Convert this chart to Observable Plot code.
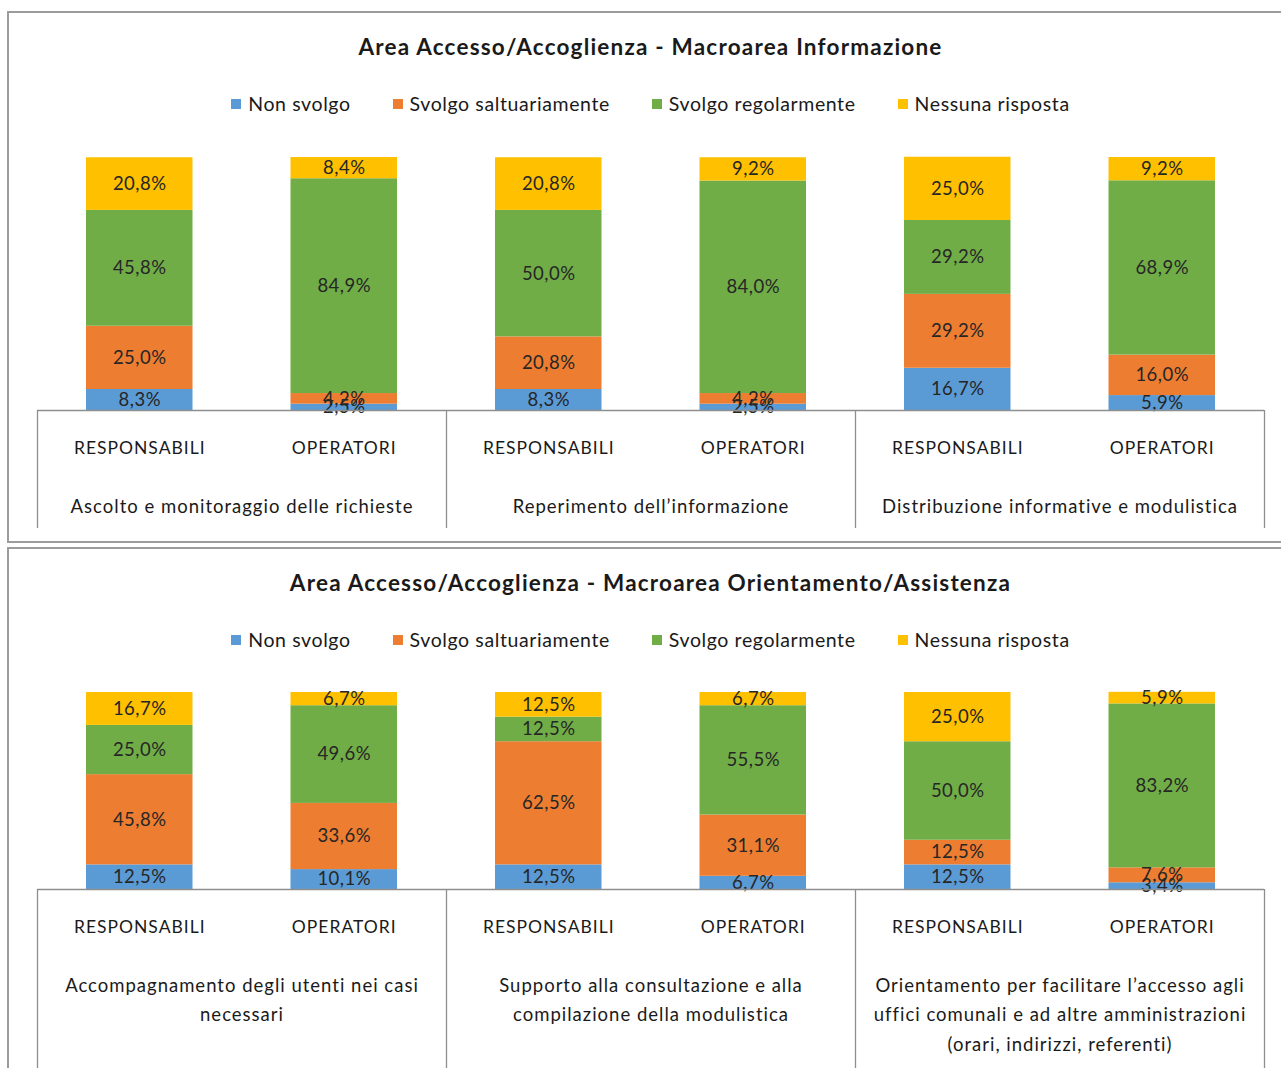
<!DOCTYPE html>
<html>
<head>
<meta charset="utf-8">
<script src="https://cdn.jsdelivr.net/npm/d3@7"></script>
<script src="https://cdn.jsdelivr.net/npm/@observablehq/plot@0.6"></script>
<style>
  body { margin: 0; background: #fff; width: 1281px; height: 1068px; overflow: hidden; position: relative; font-family: Lato, "Open Sans", sans-serif; color: #1a1a1a; }
  .panel { position: absolute; left: 7px; width: 1300px; border: 2px solid #9c9c9c; box-sizing: border-box; }
  .title { position: absolute; left: 0; width: 1301px; text-align: center; font-weight: bold; font-size: 22.5px; line-height: 24px; letter-spacing: 1.2px; }
  .legend { position: absolute; left: 0; width: 1301px; display: flex; justify-content: center; font-size: 19.5px; line-height: 22px; letter-spacing: 0.6px; }
  .legend .item { display: flex; align-items: center; margin: 0 21px; }
  .legend .sw { width: 10px; height: 10px; margin-right: 7px; }
  .chart { position: absolute; left: 0; }
</style>
</head>
<body>
<div id="root"></div>
<script>
// Response categories, bottom to top in every stacked column
const series = ["Non svolgo", "Svolgo saltuariamente", "Svolgo regolarmente", "Nessuna risposta"];
const colors = ["#5B9BD5", "#ED7D31", "#70AD47", "#FFC000"];
const roles = ["RESPONSABILI", "OPERATORI"];

// Macroarea Informazione (share of respondents, %)
const infoTitle = "Area Accesso/Accoglienza - Macroarea Informazione";
const infoGroups = [
  "Ascolto e monitoraggio delle richieste",
  "Reperimento dell’informazione",
  "Distribuzione informative e modulistica"
];
const infoNonSvolgo      = [8.3, 2.5, 8.3, 2.5, 16.7, 5.9];
const infoSaltuariamente = [25.0, 4.2, 20.8, 4.2, 29.2, 16.0];
const infoRegolarmente   = [45.8, 84.9, 50.0, 84.0, 29.2, 68.9];
const infoNessuna        = [20.8, 8.4, 20.8, 9.2, 25.0, 9.2];

// Macroarea Orientamento/Assistenza (share of respondents, %)
const orientTitle = "Area Accesso/Accoglienza - Macroarea Orientamento/Assistenza";
const orientGroups = [
  "Accompagnamento degli utenti nei casi\nnecessari",
  "Supporto alla consultazione e alla\ncompilazione della modulistica",
  "Orientamento per facilitare l’accesso agli\nuffici comunali e ad altre amministrazioni\n(orari, indirizzi, referenti)"
];
const orientNonSvolgo      = [12.5, 10.1, 12.5, 6.7, 12.5, 3.4];
const orientSaltuariamente = [45.8, 33.6, 62.5, 31.1, 12.5, 7.6];
const orientRegolarmente   = [25.0, 49.6, 12.5, 55.5, 50.0, 83.2];
const orientNessuna        = [16.7, 6.7, 12.5, 6.7, 25.0, 5.9];

const fmt = v => v.toFixed(1).replace(".", ",") + "%";

// letter spacing for the three text layers: value labels, role labels, group labels
const textSpacing = ["0.5px", "1px", "1px"];

function buildPanel(cfg) {
  const root = document.getElementById("root");

  const frame = document.createElement("div");
  frame.className = "panel";
  frame.style.top = cfg.frameTop + "px";
  frame.style.height = cfg.frameHeight + "px";
  root.appendChild(frame);

  const title = document.createElement("div");
  title.className = "title";
  title.style.top = (cfg.titleY - 12) + "px";
  title.textContent = cfg.title;
  root.appendChild(title);

  const legend = document.createElement("div");
  legend.className = "legend";
  legend.style.top = (cfg.legendY - 11) + "px";
  series.forEach((s, k) => {
    const item = document.createElement("div");
    item.className = "item";
    const sw = document.createElement("span");
    sw.className = "sw";
    sw.style.background = colors[k];
    const label = document.createElement("span");
    label.textContent = s;
    item.appendChild(sw);
    item.appendChild(label);
    legend.appendChild(item);
  });
  root.appendChild(legend);

  // one row per column segment
  const bars = d3.range(6).map(i => ({i, role: roles[i % 2]}));
  const rows = bars.flatMap(b => cfg.values.map((vals, k) => ({i: b.i, role: b.role, series: series[k], value: vals[b.i]})));
  const groups = cfg.groups.map((name, k) => ({k, name}));

  const svg = Plot.plot({
    width: 1281,
    height: cfg.height,
    marginLeft: 37,
    marginRight: 17,
    marginTop: 17,
    marginBottom: cfg.marginBottom,
    x: {domain: [0, 6], label: null},
    y: {domain: [0, 100], axis: null},
    color: {domain: series, range: colors},
    style: {fontFamily: "Lato, 'Open Sans', sans-serif", fontSize: "17px", color: "#1a1a1a", background: "transparent", overflow: "visible"},
    marks: [
      Plot.rectY(rows, Plot.stackY({x1: "i", x2: d => d.i + 1, y: "value", fill: "series", order: series, insetLeft: 49, insetRight: 49})),
      Plot.text(rows, Plot.stackY({x: d => d.i + 0.5, y: "value", z: "series", order: series, text: d => fmt(d.value), fill: "#262626", fontSize: 18.5})),
      Plot.ruleY([0], {stroke: "#8e8e8e", strokeWidth: 1.3}),
      Plot.axisX({ticks: [0, 2, 4, 6], tickSize: cfg.tickSize, tickFormat: () => "", label: null, stroke: "#8e8e8e", strokeWidth: 1.3}),
      Plot.text(bars, {x: d => d.i + 0.5, text: "role", frameAnchor: "bottom", dy: 43, fontSize: 17.5}),
      Plot.text(groups, {x: d => 2 * d.k + 1, text: "name", frameAnchor: "bottom", lineAnchor: "top", dy: 82, lineHeight: 1.58, fontSize: 18.5})
    ]
  });
  d3.select(svg).selectAll('g[aria-label="text"]').each(function(_, k) {
    this.setAttribute("letter-spacing", textSpacing[k] || "0px");
  });
  svg.classList.add("chart");
  svg.style.top = cfg.svgTop + "px";
  root.appendChild(svg);
}

buildPanel({
  title: infoTitle, groups: infoGroups,
  values: [infoNonSvolgo, infoSaltuariamente, infoRegolarmente, infoNessuna],
  frameTop: 11, frameHeight: 532, titleY: 47, legendY: 104,
  svgTop: 140, height: 400, marginBottom: 130, tickSize: 118
});

buildPanel({
  title: orientTitle, groups: orientGroups,
  values: [orientNonSvolgo, orientSaltuariamente, orientRegolarmente, orientNessuna],
  frameTop: 547, frameHeight: 600, titleY: 583, legendY: 640,
  svgTop: 675, height: 393, marginBottom: 179, tickSize: 190
});
</script>
</body>
</html>
